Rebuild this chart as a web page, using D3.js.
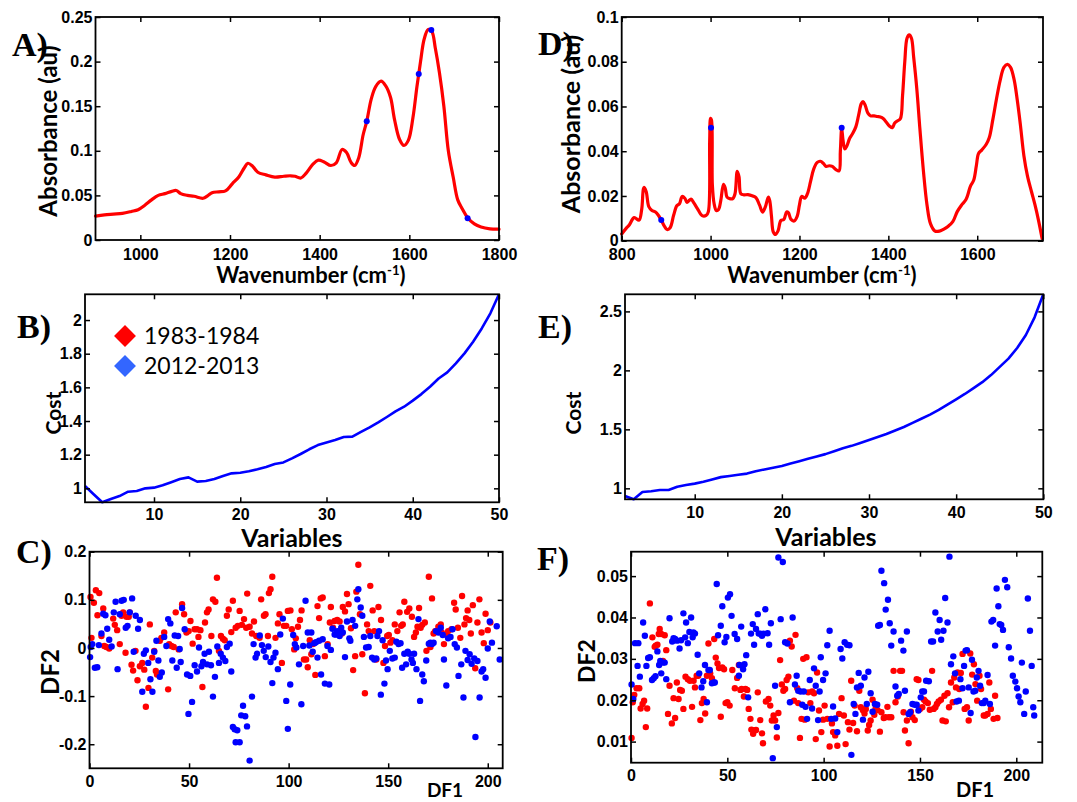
<!DOCTYPE html>
<html>
<head>
<meta charset="utf-8">
<script src="https://cdn.jsdelivr.net/npm/d3@7"></script>
<style>
  body { margin: 0; background: #fff; }
  svg { display: block; }
</style>
</head>
<body>
<svg id="fig" width="1077" height="802"></svg>
<script>
// ---------- Panel A: spectrum 1 ----------
const aWavenumber = [900,920,940,960,980,995,1010,1025,1040,1055,1070,1080,1090,1105,1120,1140,1150,1160,1175,1190,1205,1220,1232,1240,1250,1262,1280,1300,1320,1335,1345,1358,1370,1385,1397,1410,1425,1437,1450,1460,1470,1478,1487,1497,1505,1515,1525,1537,1547,1558,1567,1578,1588,1598,1608,1617,1625,1633,1642,1650,1658,1667,1677,1687,1698,1708,1718,1730,1745,1760,1780,1800];
const aAbsorbance = [0.0268,0.0282,0.029,0.0298,0.032,0.034,0.039,0.045,0.050,0.052,0.0545,0.0555,0.052,0.050,0.049,0.0468,0.0495,0.053,0.054,0.055,0.063,0.071,0.081,0.086,0.083,0.076,0.073,0.0705,0.0715,0.072,0.0715,0.0695,0.075,0.085,0.0895,0.0875,0.0835,0.0865,0.1015,0.098,0.087,0.0835,0.092,0.118,0.133,0.158,0.172,0.178,0.173,0.160,0.135,0.113,0.106,0.112,0.137,0.172,0.200,0.225,0.236,0.234,0.215,0.188,0.150,0.100,0.070,0.045,0.035,0.025,0.018,0.0145,0.0125,0.0122];
const aSelectedWavenumber = [1505,1621,1649,1730];
const aSelectedAbsorbance = [0.133,0.186,0.2355,0.0245];
const aTicksX = [1000,1200,1400,1600,1800];
const aTicksY = [0,0.05,0.1,0.15,0.2,0.25];

// ---------- Panel D: spectrum 2 ----------
const dWavenumber = [800,810,817,828,839,845,850,855,861,868,876,882,889,896,902,909,917,924,930,936,942,947,951,956,962,970,981,990,995,998,1000,1002,1004,1008,1013,1018,1023,1029,1033,1037,1043,1050,1055,1060,1064,1068,1075,1084,1095,1102,1110,1117,1123,1130,1133,1137,1141,1146,1152,1158,1165,1171,1175,1181,1188,1195,1200,1205,1212,1218,1225,1232,1240,1247,1254,1260,1267,1274,1282,1289,1292,1295,1298,1302,1307,1313,1320,1327,1333,1339,1343,1348,1354,1360,1368,1375,1382,1389,1396,1403,1409,1414,1420,1427,1432,1437,1442,1447,1452,1457,1464,1471,1479,1487,1495,1505,1515,1525,1535,1545,1555,1565,1575,1585,1592,1598,1603,1610,1620,1627,1635,1643,1652,1660,1668,1675,1683,1690,1697,1705,1713,1722,1730,1738,1746];
const dAbsorbance = [0.003,0.0055,0.007,0.0103,0.0092,0.014,0.0238,0.022,0.0152,0.0135,0.0128,0.0115,0.0092,0.0065,0.0050,0.0058,0.0115,0.0156,0.0165,0.0198,0.019,0.0171,0.0178,0.0186,0.017,0.0145,0.0112,0.0113,0.013,0.045,0.0547,0.054,0.025,0.0165,0.0135,0.0140,0.018,0.0252,0.0235,0.0195,0.0188,0.0188,0.021,0.031,0.0285,0.021,0.0205,0.0206,0.020,0.0193,0.016,0.0128,0.015,0.0195,0.018,0.011,0.004,0.0028,0.0045,0.009,0.0095,0.0128,0.0125,0.0095,0.0088,0.011,0.016,0.0198,0.019,0.021,0.0265,0.032,0.035,0.0355,0.0345,0.0332,0.0335,0.0332,0.0318,0.0312,0.040,0.0503,0.045,0.041,0.0425,0.0458,0.048,0.051,0.056,0.0612,0.0622,0.0605,0.057,0.0558,0.0558,0.0555,0.0553,0.0545,0.0528,0.0512,0.0505,0.0525,0.0535,0.0545,0.065,0.080,0.0905,0.092,0.0905,0.082,0.068,0.050,0.031,0.016,0.0075,0.0043,0.0043,0.0052,0.0065,0.0085,0.013,0.016,0.0185,0.0245,0.027,0.0335,0.039,0.0405,0.043,0.046,0.054,0.063,0.072,0.0775,0.0788,0.0775,0.072,0.063,0.052,0.038,0.029,0.022,0.016,0.009,0.001];
const dSelectedWavenumber = [889,1001,1295];
const dSelectedAbsorbance = [0.0093,0.0505,0.0505];
const dTicksX = [800,1000,1200,1400,1600];
const dTicksY = [0,0.02,0.04,0.06,0.08,0.1];

// ---------- Panels B and E: cost versus number of variables ----------
const costVariables = [2,3,4,5,6,7,8,9,10,11,12,13,14,15,16,17,18,19,20,21,22,23,24,25,26,27,28,29,30,31,32,33,34,35,36,37,38,39,40,41,42,43,44,45,46,47,48,49,50];
const bCost = [1.014,0.965,0.917,0.937,0.954,0.98,0.984,1.0,1.004,1.018,1.036,1.055,1.065,1.04,1.044,1.055,1.073,1.089,1.093,1.101,1.113,1.127,1.145,1.154,1.178,1.204,1.232,1.257,1.273,1.287,1.305,1.307,1.335,1.362,1.392,1.424,1.457,1.485,1.521,1.56,1.604,1.653,1.689,1.743,1.802,1.871,1.95,2.04,2.153];
const eCost = [0.935,0.907,0.969,0.975,0.986,0.986,1.014,1.028,1.04,1.055,1.075,1.095,1.105,1.115,1.125,1.145,1.16,1.175,1.19,1.21,1.23,1.25,1.27,1.29,1.315,1.34,1.36,1.385,1.41,1.435,1.46,1.49,1.52,1.555,1.59,1.625,1.665,1.71,1.755,1.80,1.85,1.90,1.96,2.03,2.10,2.19,2.30,2.45,2.645];
const bTicksX = [10,20,30,40,50];
const bTicksY = [1,1.2,1.4,1.6,1.8,2];
const eTicksX = [10,20,30,40,50];
const eTicksY = [1,1.5,2,2.5];

// ---------- Legend ----------
const periods = ["1983-1984","2012-2013"];
const periodColors = ["#ff0000","#3366ff"];

// ---------- Panel C: discriminant scores (DF1, DF2) ----------
const cScores1983 = [[0.5,0.106],[1.0,0.021],[2.2,0.094],[3.2,0.120],[4.0,0.068],[4.9,0.114],[6.0,0.025],[6.9,0.082],[7.4,0.004],[8.5,0.002],[9.9,-0.001],[11.9,0.061],[12.7,0.048],[13.9,0.037],[15.2,0.008],[16.1,0.067],[16.9,0.074],[18.1,-0.010],[18.6,0.065],[19.7,0.065],[20.2,0.074],[21.1,-0.035],[21.9,-0.047],[23.1,-0.006],[24.1,-0.067],[25.3,-0.038],[26.5,-0.031],[27.5,-0.045],[28.3,-0.122],[29.6,-0.083],[30.3,0.049],[31.5,-0.020],[32.5,-0.006],[33.3,-0.048],[33.9,-0.055],[35.3,0.015],[36.1,0.021],[37.5,0.032],[39.5,-0.086],[40.0,0.008],[41.1,0.004],[42.3,0.002],[43.3,0.074],[44.8,-0.003],[46.5,0.091],[47.5,0.070],[48.7,0.032],[49.8,0.035],[50.7,0.056],[51.8,0.009],[52.8,0.039],[54.0,0.039],[54.7,0.023],[55.7,0.037],[56.7,-0.081],[58.0,0.053],[59.0,0.074],[59.8,0.080],[61.2,0.025],[62.0,0.101],[63.2,0.096],[64.0,0.146],[65.0,-0.006],[66.0,0.025],[67.0,0.019],[67.9,0.016],[69.0,0.067],[69.9,0.080],[71.2,0.033],[72.0,0.098],[73.4,0.042],[74.5,0.046],[75.4,0.077],[76.5,0.048],[77.6,0.060],[78.7,0.042],[79.2,0.113],[80.4,0.044],[81.6,0.030],[82.6,0.055],[83.7,0.025],[85.4,0.021],[86.2,0.101],[87.6,0.067],[88.4,0.070],[89.6,0.025],[90.1,0.114],[90.9,0.122],[91.8,0.148],[93.4,0.021],[94.6,0.051],[95.4,0.070],[96.6,-0.031],[97.6,0.046],[98.8,0.046],[99.6,0.077],[100.9,0.078],
[101.6,0.039],[102.8,-0.003],[103.6,0.020],[104.7,0.044],[105.7,0.058],[106.5,0.078],[107.7,-0.024],[108.8,-0.024],[109.6,-0.040],[110.6,0.016],[111.4,-0.013],[112.2,0.008],[113.4,-0.056],[114.5,0.087],[115.3,0.062],[116.1,0.103],[117.1,0.105],[118.2,-0.017],[119.6,0.008],[120.7,0.053],[121.2,0.085],[122.3,0.042],[123.1,0.056],[124.4,0.058],[125.6,0.055],[126.7,0.030],[127.2,0.085],[128.3,0.076],[129.3,0.112],[130.1,0.091],[131.3,0.041],[132.4,-0.046],[133.4,-0.017],[134.0,0.117],[135.0,0.173],[135.8,0.070],[137.0,-0.013],[138.3,-0.094],[139.4,0.049],[140.2,0.035],[141.0,0.129],[142.2,0.078],[143.0,0.035],[144.0,-0.024],[145.1,0.085],[146.4,0.058],[147.6,-0.031],[148.4,0.004],[149.5,0.025],[150.3,0.027],[151.1,0.011],[152.1,0.016],[153.3,0.049],[154.6,0.035],[155.7,0.074],[156.5,0.046],[157.3,0.049],[158.1,0.096],[159.5,0.075],[160.6,0.082],[161.9,0.065],[163.0,0.023],[163.9,0.032],[164.7,0.044],[165.5,0.083],[166.3,0.042],[167.1,0.048],[168.4,0.053],[169.2,-0.006],[170.4,0.148],[171.2,0.002],[172.0,0.103],[172.8,0.030],[173.6,0.035],[175.2,0.044],[176.4,0.049],[176.9,0.032],[178.0,0.008],[179.0,0.028],[180.1,0.035],[181.8,0.039],[183.1,0.094],[183.9,0.080],[185.0,0.042],[186.2,0.021],[187.1,0.108],[188.3,0.049],[189.1,0.062],[189.9,0.078],[190.7,0.058],[191.5,0.030],[192.5,0.089],[193.7,-0.042],[194.8,0.053],[195.8,0.101],[196.9,0.032],[198.0,0.010],[198.9,0.071],[200.0,0.037],[201.3,0.053]];
const cScores2012 = [[0.3,-0.019],[0.6,0.002],[1.4,0.008],[2.7,-0.041],[3.9,-0.040],[4.7,0.006],[6.0,0.030],[6.9,0.071],[8.0,0.068],[8.9,0.040],[9.9,0.017],[11.1,0.003],[12.2,0.074],[13.1,0.096],[14.1,-0.044],[15.2,0.070],[16.1,0.098],[17.2,0.100],[18.2,0.042],[19.1,0.046],[20.2,0.074],[21.4,0.103],[22.2,-0.008],[23.2,0.067],[24.4,0.040],[25.3,0.058],[26.5,-0.091],[27.3,-0.012],[28.3,-0.005],[29.5,-0.031],[30.6,-0.065],[31.6,-0.091],[32.5,-0.008],[33.6,0.015],[34.6,-0.026],[35.3,-0.060],[36.3,-0.051],[37.5,0.023],[38.6,0.004],[39.5,0.060],[40.6,0.051],[41.6,-0.026],[42.8,0.026],[43.8,-0.041],[44.5,0.025],[45.3,-0.002],[45.8,-0.029],[46.5,0.083],[47.8,0.039],[49.0,-0.055],[49.7,-0.137],[50.6,-0.058],[51.5,-0.112],[52.8,-0.036],[54.0,-0.049],[55.0,0.001],[56.2,-0.038],[57.0,-0.029],[57.8,-0.012],[59.0,-0.034],[60.0,-0.008],[61.0,-0.036],[62.0,-0.101],[63.0,-0.060],[64.2,0.003],[65.0,-0.031],[65.9,-0.012],[67.0,-0.020],[68.2,-0.027],[69.0,0.002],[70.4,0.009],[71.2,-0.049],[72.0,-0.164],[72.9,-0.169],[73.4,-0.196],[74.2,-0.171],[75.4,-0.196],[76.2,-0.140],[77.1,-0.120],[78.2,-0.142],[79.1,-0.163],[80.4,-0.234],[81.6,-0.101],[82.4,0.008],[83.4,-0.020],[84.1,-0.012],[85.5,0.026],[86.6,0.006],[87.5,-0.006],[88.5,-0.019],[89.8,0.003],[90.9,-0.029],[91.8,-0.073],[92.4,-0.020],[93.4,-0.010],[94.6,-0.044],[95.8,0.028],[97.1,0.061],[98.8,-0.110],[99.6,-0.168],
[100.8,-0.076],[102.3,0.027],[103.1,0.008],[103.9,0.001],[105.2,-0.034],[106.4,-0.117],[107.3,0.004],[108.5,0.098],[109.6,0.032],[110.4,0.005],[111.4,0.032],[112.1,-0.008],[112.9,0.010],[113.7,0.012],[114.5,-0.020],[115.3,0.015],[116.3,-0.055],[117.1,0.018],[118.2,-0.074],[119.5,0.004],[120.4,-0.076],[121.2,-0.004],[122.0,0.040],[123.1,0.028],[123.9,0.028],[124.4,0.035],[125.6,0.025],[126.4,0.042],[127.2,0.032],[128.3,-0.019],[129.3,0.055],[130.5,0.020],[131.0,0.015],[132.1,0.058],[133.4,0.046],[134.5,0.101],[135.0,0.122],[136.2,0.084],[137.0,0.067],[137.8,0.023],[138.9,0.001],[140.2,0.002],[141.0,0.025],[141.9,-0.020],[143.0,-0.024],[144.0,-0.022],[144.6,0.025],[145.4,0.035],[146.3,-0.097],[147.2,0.016],[148.1,-0.074],[148.9,-0.026],[149.7,-0.044],[150.8,-0.006],[152.1,-0.022],[153.3,-0.020],[154.1,0.013],[155.2,0.008],[156.2,0.010],[157.0,-0.041],[158.1,-0.012],[159.0,-0.034],[159.8,-0.008],[160.6,-0.012],[161.7,-0.024],[162.4,-0.031],[163.0,-0.012],[164.2,-0.044],[165.2,0.060],[166.0,-0.110],[167.1,-0.055],[167.9,-0.069],[169.1,-0.026],[170.4,0.009],[171.2,0.011],[172.0,0.008],[172.8,0.011],[174.0,0.035],[175.2,0.032],[176.4,0.042],[177.4,0.027],[178.0,-0.024],[179.2,-0.078],[180.1,0.020],[181.3,0.023],[182.3,0.039],[183.4,0.008],[184.5,0.001],[185.3,-0.058],[186.7,-0.034],[187.8,-0.103],[188.8,-0.006],[189.9,-0.025],[190.9,-0.013],[191.9,-0.033],[193.2,-0.022],[193.8,-0.185],[194.8,-0.027],[195.9,-0.103],[196.9,-0.049],[197.7,-0.044],[198.9,-0.062],[200.0,-0.001],[201.0,0.055],[202.1,0.011],[204.5,0.045],[206.0,-0.024]];
const cTicksX = [0,50,100,150,200];
const cTicksY = [-0.2,-0.1,0,0.1,0.2];

// ---------- Panel F: discriminant scores (DF1, DF2) ----------
const fScores1983 = [[0.3,0.0109],[0.9,0.0195],[1.7,0.0213],[2.9,0.0229],[4.3,0.0229],[5.0,0.0180],[6.0,0.0191],[6.8,0.0199],[7.7,0.0135],[8.4,0.0180],[9.8,0.0434],[11.1,0.0352],[12.3,0.0329],[12.8,0.0332],[13.7,0.0334],[14.4,0.0360],[14.9,0.0372],[15.7,0.0360],[16.6,0.0295],[17.5,0.0357],[18.3,0.0321],[19.2,0.0167],[20.0,0.0235],[21.2,0.0144],[22.1,0.0205],[22.9,0.0157],[23.8,0.0243],[24.7,0.0203],[25.5,0.0225],[26.4,0.0223],[27.2,0.0179],[28.3,0.0257],[29.5,0.0251],[30.6,0.0247],[31.7,0.0184],[32.5,0.0247],[33.2,0.0231],[34.1,0.0259],[34.9,0.0259],[36.0,0.0152],[36.8,0.0193],[37.7,0.0203],[38.5,0.0168],[39.4,0.0259],[40.2,0.0337],[41.1,0.0265],[42.0,0.0253],[43.2,0.0348],[44.0,0.0303],[44.9,0.0289],[45.7,0.0278],[46.6,0.0160],[47.4,0.0279],[48.3,0.0275],[49.1,0.0193],[50.0,0.0195],[51.2,0.0187],[52.6,0.0273],[53.9,0.0229],[55.1,0.0254],[56.0,0.0285],[56.8,0.0225],[57.4,0.0227],[58.6,0.0209],[59.4,0.0227],[60.3,0.0225],[61.1,0.0179],[62.0,0.0155],[62.5,0.0129],[63.4,0.0119],[64.0,0.0127],[64.9,0.0128],[65.8,0.0219],[67.1,0.0152],[68.0,0.0120],[68.5,0.0096],[70.0,0.0197],[71.4,0.0203],[72.3,0.0187],[73.1,0.0151],[74.0,0.0163],[74.8,0.0151],[75.7,0.0110],[76.5,0.0169],[77.4,0.0297],[78.3,0.0238],[79.1,0.0223],[80.0,0.0227],[80.8,0.0249],[81.7,0.0257],[82.5,0.0344],[83.4,0.0330],[84.6,0.0199],[85.4,0.0358],[86.3,0.0229],[86.8,0.0193],[87.7,0.0109],[88.5,0.0155],[89.4,0.0300],[90.2,0.0153],[91.1,0.0304],[92.0,0.0219],[93.1,0.0193],[94.0,0.0221],[95.0,0.0217],[95.9,0.0106],[96.6,0.0267],[97.6,0.0175],[98.8,0.0123],[99.7,0.0153],[100.5,0.0187],[101.9,0.0155],[103.1,0.0088],
[104.3,0.0144],[104.9,0.0123],[106.0,0.0115],[107.1,0.0090],[108.0,0.0167],[109.3,0.0205],[110.5,0.0163],[111.4,0.0094],[112.6,0.0147],[113.4,0.0129],[114.3,0.0247],[115.3,0.0145],[116.1,0.0187],[117.3,0.0125],[118.5,0.0223],[119.3,0.0183],[120.4,0.0176],[121.2,0.0168],[121.9,0.0179],[122.9,0.0127],[123.6,0.0140],[124.4,0.0151],[125.4,0.0201],[126.3,0.0165],[127.0,0.0180],[128.0,0.0176],[129.2,0.0124],[130.0,0.0171],[131.2,0.0157],[132.1,0.0159],[133.1,0.0184],[133.9,0.0159],[135.1,0.0159],[136.3,0.0271],[137.3,0.0195],[138.5,0.0209],[139.7,0.0271],[140.7,0.0271],[141.5,0.0171],[142.2,0.0127],[143.2,0.0151],[144.1,0.0096],[145.3,0.0172],[146.1,0.0159],[147.3,0.0152],[148.3,0.0251],[149.2,0.0249],[150.0,0.0179],[151.2,0.0183],[152.1,0.0201],[152.9,0.0197],[154.1,0.0193],[155.1,0.0177],[156.3,0.0271],[157.1,0.0179],[158.0,0.0183],[158.8,0.0191],[159.7,0.0197],[160.9,0.0201],[161.7,0.0151],[162.7,0.0211],[163.4,0.0149],[164.3,0.0217],[165.1,0.0183],[166.1,0.0243],[167.0,0.0195],[167.8,0.0255],[168.7,0.0231],[169.5,0.0267],[170.4,0.0227],[171.2,0.0266],[172.1,0.0312],[173.2,0.0179],[174.4,0.0183],[175.3,0.0151],[176.1,0.0313],[177.1,0.0262],[178.0,0.0287],[178.8,0.0239],[179.7,0.0199],[180.9,0.0259],[181.7,0.0227],[183.1,0.0163],[183.9,0.0163],[185.1,0.0167],[186.0,0.0243],[186.8,0.0179],[188.2,0.0155],[189.0,0.0211],[190.2,0.0157]];
const fScores2012 = [[0.3,0.0238],[1.2,0.0203],[2.1,0.0338],[3.8,0.0338],[3.4,0.0283],[4.6,0.0257],[6.3,0.0388],[7.2,0.0356],[8.0,0.0283],[8.9,0.0302],[9.8,0.0304],[10.9,0.0249],[11.8,0.0253],[12.7,0.0258],[13.7,0.0318],[14.6,0.0285],[15.2,0.0295],[15.7,0.0265],[16.6,0.0291],[17.5,0.0291],[18.3,0.0251],[20.0,0.0398],[21.4,0.0342],[22.1,0.0350],[22.9,0.0348],[23.9,0.0344],[25.2,0.0325],[26.0,0.0345],[27.2,0.0410],[28.1,0.0352],[28.6,0.0388],[29.5,0.0338],[30.3,0.0365],[31.2,0.0400],[32.0,0.0352],[32.4,0.0364],[33.2,0.0361],[34.6,0.0310],[35.4,0.0265],[36.6,0.0231],[37.5,0.0246],[38.4,0.0285],[39.4,0.0195],[40.2,0.0273],[40.9,0.0273],[42.0,0.0241],[43.0,0.0243],[43.5,0.0243],[44.5,0.0481],[45.2,0.0357],[46.6,0.0380],[47.4,0.0427],[48.6,0.0340],[49.5,0.0353],[50.3,0.0448],[51.4,0.0456],[52.2,0.0404],[53.8,0.0360],[55.1,0.0348],[56.0,0.0259],[56.3,0.0285],[57.2,0.0378],[58.2,0.0275],[58.9,0.0287],[59.8,0.0309],[60.8,0.0207],[62.3,0.0361],[63.2,0.0384],[63.9,0.0334],[64.9,0.0372],[65.8,0.0408],[66.3,0.0361],[67.1,0.0361],[68.0,0.0356],[68.8,0.0361],[69.7,0.0420],[70.9,0.0362],[71.7,0.0334],[72.6,0.0386],[73.6,0.0060],[74.8,0.0235],[75.7,0.0135],[76.5,0.0545],[77.7,0.0396],[78.8,0.0534],[80.0,0.0340],[81.2,0.0337],[82.5,0.0195],[83.9,0.0400],[85.1,0.0238],[86.0,0.0259],[86.8,0.0223],[88.0,0.0221],[88.9,0.0189],[89.7,0.0221],[90.6,0.0184],[91.4,0.0155],[92.8,0.0249],[94.0,0.0180],[95.0,0.0277],[95.9,0.0235],[97.1,0.0152],[97.9,0.0221],[98.5,0.0304],[99.7,0.0249],[101.0,0.0265],[101.9,0.0333],[103.1,0.0368],[103.9,0.0155],
[104.9,0.0185],[106.0,0.0156],[107.1,0.0123],[108.8,0.0324],[109.7,0.0301],[110.9,0.0340],[112.2,0.0334],[113.4,0.0333],[114.4,0.0068],[115.6,0.0191],[116.5,0.0167],[117.3,0.0231],[118.2,0.0266],[119.3,0.0235],[120.4,0.0153],[121.2,0.0255],[122.4,0.0191],[123.2,0.0269],[124.4,0.0217],[125.4,0.0172],[126.6,0.0191],[127.8,0.0189],[128.3,0.0380],[129.2,0.0382],[130.0,0.0513],[131.4,0.0483],[132.2,0.0419],[133.4,0.0443],[134.3,0.0386],[135.1,0.0332],[136.3,0.0366],[137.3,0.0233],[138.2,0.0211],[139.0,0.0215],[140.2,0.0344],[141.4,0.0320],[142.2,0.0223],[143.2,0.0366],[144.1,0.0167],[144.9,0.0171],[146.1,0.0191],[147.3,0.0189],[148.3,0.0189],[149.2,0.0175],[150.4,0.0207],[151.2,0.0221],[152.1,0.0221],[153.2,0.0247],[154.6,0.0246],[155.8,0.0342],[156.8,0.0342],[158.0,0.0412],[159.2,0.0366],[160.2,0.0394],[161.0,0.0346],[162.2,0.0368],[163.1,0.0447],[164.3,0.0388],[165.3,0.0547],[166.1,0.0287],[167.3,0.0306],[168.2,0.0265],[169.0,0.0197],[170.2,0.0199],[171.0,0.0251],[172.1,0.0229],[172.9,0.0283],[173.7,0.0320],[174.4,0.0321],[175.3,0.0231],[176.3,0.0169],[177.0,0.0298],[177.8,0.0221],[178.7,0.0223],[179.5,0.0255],[180.4,0.0271],[181.2,0.0235],[182.1,0.0193],[183.1,0.0193],[183.9,0.0199],[185.1,0.0261],[186.3,0.0191],[187.1,0.0390],[188.0,0.0394],[189.0,0.0332],[189.8,0.0470],[190.7,0.0427],[191.4,0.0384],[192.2,0.0382],[193.1,0.0370],[194.1,0.0491],[195.3,0.0473],[196.1,0.0328],[197.3,0.0301],[198.2,0.0259],[199.5,0.0245],[200.4,0.0229],[201.2,0.0209],[202.1,0.0195],[202.9,0.0291],[204.1,0.0167],[204.9,0.0221],[206.0,0.0446],[207.1,0.0368],[208.0,0.0283],[208.8,0.0183],[209.3,0.0163]];
const fTicksX = [0,50,100,150,200];
const fTicksY = [0.01,0.02,0.03,0.04,0.05];

// ---------- drawing ----------
const svg = d3.select("#fig");
const RED = "#ff0000", BLUE = "#0000ff";
const TICK_FONT = "'Liberation Sans', Arial, sans-serif";
const LABEL_FONT = "Lato, 'Open Sans', sans-serif";
const LETTER_FONT = "'Liberation Serif', 'Times New Roman', serif";
const fmt = d => String(d);

function drawPanel(p) {
  const b = p.box;
  const x = d3.scaleLinear().domain(p.xDomain).range([b.left, b.right]);
  const y = d3.scaleLinear().domain(p.yDomain).range([b.bottom, b.top]);
  const g = svg.append("g");
  p.draw(g.append("g"), x, y);

  const axes = g.append("g");
  const bottom = axes.append("g").attr("transform", `translate(0,${b.bottom})`)
    .call(d3.axisBottom(x).tickValues(p.xTicks).tickSize(-5).tickFormat(fmt));
  bottom.selectAll("text").attr("y", p.xLabelGap).attr("dy", null);
  axes.append("g").attr("transform", `translate(0,${b.top})`)
    .call(d3.axisTop(x).tickValues(p.xTicks).tickSize(-5).tickFormat(""));
  axes.append("g").attr("transform", `translate(${b.left},0)`)
    .call(d3.axisLeft(y).tickValues(p.yTicks).tickSize(-5).tickPadding(3).tickFormat(fmt));
  axes.append("g").attr("transform", `translate(${b.right},0)`)
    .call(d3.axisRight(y).tickValues(p.yTicks).tickSize(-5).tickFormat(""));
  axes.selectAll(".domain").remove();
  axes.selectAll(".tick line").attr("stroke", "#000").attr("stroke-width", 1.5);
  axes.selectAll("text").attr("fill", "#000").attr("font-family", TICK_FONT)
    .attr("font-size", 16).attr("font-weight", "bold");

  g.append("rect")
    .attr("x", b.left).attr("y", b.top)
    .attr("width", b.right - b.left).attr("height", b.bottom - b.top)
    .attr("fill", "none").attr("stroke", "#000").attr("stroke-width", 1.8);

  // panel letter
  g.append("text").attr("x", p.letter.x).attr("y", p.letter.y)
    .attr("font-family", LETTER_FONT).attr("font-weight", "bold").attr("font-size", 34)
    .text(p.letter.text);

  // x title
  const xt = g.append("text").attr("x", p.xTitle.x).attr("y", p.xTitle.y)
    .attr("text-anchor", "middle").attr("font-family", LABEL_FONT).attr("font-weight", "bold")
    .attr("font-size", p.xTitle.size);
  if (p.xTitle.sup) {
    xt.append("tspan").text(p.xTitle.text);
    xt.append("tspan").attr("font-size", p.xTitle.size * 0.6).attr("dy", -p.xTitle.size * 0.38).text(p.xTitle.sup);
    xt.append("tspan").attr("dy", p.xTitle.size * 0.38).text(")");
  } else {
    xt.text(p.xTitle.text);
  }
  // y title
  g.append("text")
    .attr("transform", `translate(${p.yTitle.x},${p.yTitle.y}) rotate(-90)`)
    .attr("text-anchor", "middle").attr("font-family", LABEL_FONT).attr("font-weight", "bold")
    .attr("font-size", p.yTitle.size).attr("dy", "0.35em")
    .text(p.yTitle.text);
  return {x, y};
}

function spectrum(wn, ab, markWn, markAb) {
  return (g, x, y) => {
    const pts = wn.map((w, i) => [w, ab[i]]);
    g.append("path").datum(pts)
      .attr("d", d3.line().x(d => x(d[0])).y(d => y(d[1])).curve(d3.curveCatmullRom.alpha(0.5)))
      .attr("fill", "none").attr("stroke", RED).attr("stroke-width", 3.2)
      .attr("stroke-linejoin", "round").attr("stroke-linecap", "round");
    g.selectAll("circle").data(markWn.map((w, i) => [w, markAb[i]])).join("circle")
      .attr("cx", d => x(d[0])).attr("cy", d => y(d[1])).attr("r", 3).attr("fill", BLUE);
  };
}

function costCurve(vars, cost) {
  return (g, x, y) => {
    g.append("path").datum(vars.map((v, i) => [v, cost[i]]))
      .attr("d", d3.line().x(d => x(d[0])).y(d => y(d[1])))
      .attr("fill", "none").attr("stroke", BLUE).attr("stroke-width", 2.6)
      .attr("stroke-linejoin", "round");
  };
}

function scatter(s1983, s2012) {
  return (g, x, y) => {
    [[s1983, RED], [s2012, BLUE]].forEach(([data, col]) => {
      g.append("g").selectAll("circle").data(data).join("circle")
        .attr("cx", d => x(d[0])).attr("cy", d => y(d[1])).attr("r", 3.2).attr("fill", col);
    });
  };
}

// A
drawPanel({
  box: {left: 95.5, right: 499, top: 17, bottom: 240},
  xDomain: [900, 1800], yDomain: [0, 0.25], xTicks: aTicksX, yTicks: aTicksY, xLabelGap: 20,
  draw: spectrum(aWavenumber, aAbsorbance, aSelectedWavenumber, aSelectedAbsorbance),
  letter: {x: 12, y: 56, text: "A)"},
  xTitle: {x: 311, y: 283, size: 22, text: "Wavenumber (cm", sup: "-1"},
  yTitle: {x: 49, y: 131, size: 24, text: "Absorbance (au)"}
});
// D
drawPanel({
  box: {left: 621.7, right: 1043, top: 17, bottom: 240.7},
  xDomain: [800, 1748], yDomain: [0, 0.1], xTicks: dTicksX, yTicks: dTicksY, xLabelGap: 19,
  draw: spectrum(dWavenumber, dAbsorbance, dSelectedWavenumber, dSelectedAbsorbance),
  letter: {x: 538, y: 55, text: "D)"},
  xTitle: {x: 822, y: 283, size: 22, text: "Wavenumber (cm", sup: "-1"},
  yTitle: {x: 571, y: 124, size: 25, text: "Absorbance (au)"}
});
// B
drawPanel({
  box: {left: 85, right: 499, top: 294.3, bottom: 502.3},
  xDomain: [2, 50], yDomain: d3.extent(bCost), xTicks: bTicksX, yTicks: bTicksY, xLabelGap: 17.5,
  draw: costCurve(costVariables, bCost),
  letter: {x: 17, y: 338, text: "B)"},
  xTitle: {x: 292, y: 547, size: 25, text: "Variables"},
  yTitle: {x: 54, y: 413, size: 21, text: "Cost"}
});
// legend in B
const legend = svg.append("g");
periods.forEach((name, i) => {
  const cy = 336 + i * 30;
  legend.append("path")
    .attr("d", d3.symbol().type(d3.symbolSquare).size(240)())
    .attr("transform", `translate(125,${cy}) rotate(45)`)
    .attr("fill", periodColors[i]);
  legend.append("text").attr("x", 144).attr("y", cy + 8)
    .attr("font-family", "Lato, 'Open Sans', sans-serif").attr("font-size", 23)
    .text(name);
});
// E
drawPanel({
  box: {left: 625, right: 1043.3, top: 294.3, bottom: 499.3},
  xDomain: [2, 50], yDomain: d3.extent(eCost), xTicks: eTicksX, yTicks: eTicksY, xLabelGap: 19,
  draw: costCurve(costVariables, eCost),
  letter: {x: 538, y: 338, text: "E)"},
  xTitle: {x: 826, y: 546, size: 25, text: "Variables"},
  yTitle: {x: 574, y: 413, size: 21, text: "Cost"}
});
// C
drawPanel({
  box: {left: 89.5, right: 502.7, top: 551.7, bottom: 768.3},
  xDomain: [0, 207.5], yDomain: [-0.25, 0.2], xTicks: cTicksX, yTicks: cTicksY, xLabelGap: 19,
  draw: scatter(cScores1983, cScores2012),
  letter: {x: 16, y: 563, text: "C)"},
  xTitle: {x: 445, y: 797, size: 19, text: "DF1"},
  yTitle: {x: 51, y: 672, size: 24, text: "DF2"}
});
// F
drawPanel({
  box: {left: 631, right: 1042.3, top: 551.7, bottom: 762.7},
  xDomain: [0, 213.5], yDomain: [0.0049, 0.0559], xTicks: fTicksX, yTicks: fTicksY, xLabelGap: 18,
  draw: scatter(fScores1983, fScores2012),
  letter: {x: 537, y: 570, text: "F)"},
  xTitle: {x: 975, y: 797, size: 20, text: "DF1"},
  yTitle: {x: 587, y: 661, size: 23, text: "DF2"}
});
</script>
</body>
</html>
